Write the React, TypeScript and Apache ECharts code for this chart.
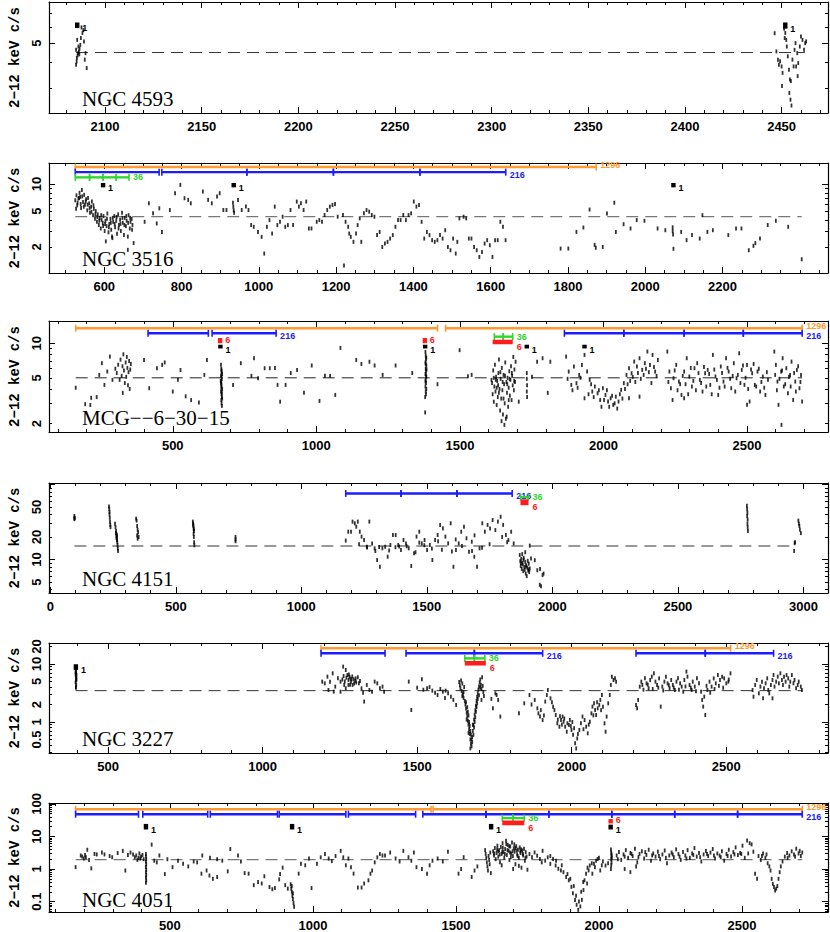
import React, { useEffect, useRef } from "react";
import * as echarts from "echarts";

type Pt = [number, number];
type Row = { scale: string; y: number; segs: [number, number][]; labelled: boolean };
type Mark = { x: number; lo: number; hi: number; scale: string };
type Block = { x1: number; x2: number; lo: number; hi: number; scale: string };

// ---------------- Panel 1 : NGC 4593 ----------------
const p1Name = "NGC 4593";
const p1XRange = [2071, 2474];
const p1YRange = [2.25, 8.0];
const p1XTicks = [2100, 2150, 2200, 2250, 2300, 2350, 2400, 2450];
const p1YLabels = [5];
const p1YMajor = [5];
const p1YMinor = [3, 4, 6, 7];
const p1Mean = 4.49;
const p1MeanSpan = [2085, 2462];
const p1Points: Pt[] = [
  [2085.6, 5.19], [2086.2, 4.81], [2085.0, 4.63], [2086.0, 4.46], [2085.4, 4.22], [2085.0, 3.9], [2087.8, 5.98],
  [2088.3, 5.62], [2089.1, 5.1], [2089.9, 4.46], [2089.5, 4.14], [2090.5, 3.76], [2086.7, 4.4], [2087.2, 4.9],
  [2087.5, 5.3], [2086.5, 4.55], [2085.8, 4.35], [2088.8, 5.8], [2085.3, 4.05], [2086.8, 4.7],
  [2446.4, 5.6], [2447.3, 4.55], [2448.1, 4.14], [2449.2, 4.06], [2450.0, 3.83], [2450.5, 3.56], [2450.2, 3.06],
  [2451.9, 5.62], [2452.4, 5.19], [2452.7, 4.81], [2453.2, 4.3], [2453.8, 3.69], [2454.3, 3.3], [2454.8, 3.24],
  [2454.0, 2.83], [2454.6, 2.62], [2455.1, 2.45], [2455.6, 4.14], [2456.2, 3.83], [2456.7, 4.63], [2457.2, 5.0],
  [2458.1, 4.46], [2458.6, 3.98], [2459.4, 4.81], [2460.0, 5.4], [2460.8, 5.19], [2461.6, 4.63], [2462.2, 5.0],
  [2462.7, 5.1], [2457.5, 3.83], [2458.3, 3.43], [2448.6, 3.9], [2451.3, 5.9], [2451.6, 5.3],
];
const p1Rows: Row[] = [];
const p1Marks: Mark[] = [
  { x: 2085.6, lo: 5.94, hi: 6.33, scale: "1" },
  { x: 2451.9, lo: 5.9, hi: 6.33, scale: "1" },
];
const p1Blocks: Block[] = [];

// ---------------- Panel 2 : NGC 3516 ----------------
const p2Name = "NGC 3516";
const p2XRange = [457, 2473];
const p2YRange = [1.02, 17.2];
const p2XTicks = [600, 800, 1000, 1200, 1400, 1600, 1800, 2000, 2200];
const p2YLabels = [2, 5, 10];
const p2YMajor = [10];
const p2YMinor = [2, 3, 4, 5, 6, 7, 8, 9];
const p2Mean = 4.33;
const p2MeanSpan = [525, 2405];
const p2Points: Pt[] = [
  [525, 6.6], [528, 7.5], [530, 5.8], [533, 6.9], [536, 8.0], [538, 7.2], [540, 5.4], [542, 8.6], [545, 6.3],
  [548, 7.6], [550, 5.9], [553, 6.8], [556, 5.1], [558, 7.0], [561, 6.1], [563, 4.8], [566, 5.6], [568, 6.4],
  [571, 4.5], [573, 5.3], [576, 4.1], [578, 5.0], [581, 3.8], [583, 4.6], [586, 3.5], [588, 4.2], [591, 3.2],
  [593, 4.0], [596, 3.7], [598, 4.4], [601, 3.0], [603, 3.9], [606, 3.4], [608, 4.7], [611, 2.9], [613, 3.6],
  [616, 4.1], [618, 3.1], [621, 2.5], [623, 3.8], [626, 4.4], [628, 3.3], [631, 3.9], [633, 2.8], [636, 4.6],
  [638, 3.5], [641, 4.0], [643, 3.0], [646, 4.8], [648, 3.7], [651, 2.7], [653, 4.2], [656, 3.4], [658, 3.9],
  [661, 2.6], [663, 4.5], [666, 3.2], [668, 3.8], [671, 4.1], [673, 3.5], [676, 2.2], [604, 2.3], [620, 2.6],
  [661, 1.85], [527, 5.3], [531, 6.2], [535, 7.0], [539, 6.0], [543, 7.3], [547, 5.6], [552, 6.4], [557, 5.9],
  [562, 5.4], [567, 4.9], [572, 5.8], [577, 4.6], [582, 4.3], [587, 3.9], [592, 4.5], [597, 3.4], [602, 3.6],
  [607, 4.1], [612, 3.3], [617, 3.7], [622, 4.2], [627, 3.6], [632, 4.3], [637, 3.2], [642, 3.6], [647, 4.2],
  [652, 3.5], [657, 4.4], [662, 3.7], [667, 4.2], [672, 3.1],
  [704.5, 3.8], [715.4, 6.11], [726.3, 4.72], [735.8, 3.64], [742.5, 5.37], [749.3, 2.93], [769.7, 5.14],
  [783.3, 7.92], [796.9, 9.8], [807.7, 6.96], [817.2, 6.67], [824, 6.11], [855.2, 8.27], [868.8, 6.67],
  [878.3, 6.11], [891.9, 7.26], [898.7, 7.92], [908.2, 5.14], [916.3, 5.14], [933, 6.2], [934, 5.6], [935, 5.1],
  [936, 4.8], [946.2, 6.67], [955.7, 5.14], [966.6, 5.61], [973.3, 5.14], [980.1, 3.49], [986.9, 3.34],
  [997.8, 2.93], [1007.3, 2.58], [1014, 1.68], [1020.9, 3.34], [1027.6, 3.97], [1034.4, 2.81], [1041.2, 5.61],
  [1048, 3.49], [1054.8, 3.8], [1061.6, 4.33], [1068.4, 3.34], [1075.2, 3.49], [1082, 5.14], [1088.7, 3.49],
  [1098.2, 6.39], [1103.7, 5.61], [1109, 6.11], [1115.9, 5.14], [1122.7, 6.39], [1129.5, 3.2], [1136.3, 3.2],
  [1149.8, 3.8], [1156.6, 3.97], [1163.4, 3.8], [1170.2, 4.52], [1177, 5.14], [1183.8, 5.61], [1190.6, 5.86],
  [1197.3, 6.0], [1204.1, 4.33], [1217.7, 4.52], [1220.4, 1.24], [1224.5, 3.8], [1231.3, 3.34], [1234, 2.81],
  [1238, 2.58], [1244.9, 2.27], [1251.6, 2.81], [1255.7, 3.49], [1261.1, 4.15], [1265.2, 2.27], [1272, 4.72],
  [1278.8, 5.14], [1285.6, 4.93], [1292.4, 4.52], [1299.2, 4.33], [1306, 2.7], [1312.7, 2.93], [1319.5, 1.99],
  [1326.3, 2.17], [1333.1, 2.27], [1339.9, 2.47], [1346.7, 2.7], [1353.5, 3.34], [1360.3, 3.97], [1367, 3.97],
  [1373.8, 4.52], [1380.6, 3.97], [1387.4, 4.52], [1394.2, 4.72], [1401, 6.39], [1407.8, 5.61], [1414.6, 5.86],
  [1421.3, 3.8], [1428.1, 2.47], [1434.9, 2.93], [1441.7, 2.7], [1448.5, 2.37], [1455.3, 2.27], [1462.1, 2.37],
  [1468.9, 2.7], [1475.6, 2.47], [1482.4, 3.06], [1489.2, 1.99], [1496, 1.83], [1502.8, 2.47], [1509.6, 1.68],
  [1513.7, 2.27], [1519.1, 4.15], [1530, 4.33], [1536.7, 4.15], [1543.5, 2.47], [1550.3, 2.47], [1557.1, 1.99],
  [1563.9, 1.83], [1570.7, 1.54], [1577.5, 1.75], [1584.3, 2.17], [1591, 2.37], [1597.8, 2.08], [1604.6, 1.54],
  [1611.4, 2.37], [1618.2, 2.37], [1625, 3.8], [1631.8, 3.34], [1638.6, 2.37],
  [1781, 1.91], [1801, 1.91], [1822, 2.93], [1840, 3.28], [1856, 5.2], [1869, 2.1], [1872, 1.95], [1890, 1.99],
  [1901, 4.7], [1920, 6.2], [1924, 2.93], [1944, 3.57], [1962, 3.2], [1978, 3.97], [1998, 3.9], [2032, 3.2],
  [2052, 3.06], [2071, 3.3], [2071, 3.0], [2072, 2.75], [2073, 1.9], [2093, 2.93], [2107, 2.37], [2121, 2.7],
  [2141, 2.47], [2148, 4.5], [2161, 2.93], [2175, 3.06], [2215, 2.7], [2235, 3.2], [2249, 3.2], [2268, 1.83],
  [2280, 2.05], [2285, 2.2], [2297, 2.47], [2317, 3.5], [2338, 3.9], [2370, 3.34], [2405, 1.45],
];
const p2Rows: Row[] = [
  { scale: "1296", y: 15.5, segs: [[525, 1873]], labelled: true },
  { scale: "216", y: 13.6, segs: [[525, 742], [749, 969], [969, 1193], [1193, 1417], [1417, 1639]], labelled: true },
  { scale: "36", y: 11.9, segs: [[525, 562], [562, 597], [597, 631], [631, 664]], labelled: true },
];
const p2Marks: Mark[] = [
  { x: 597, lo: 9.2, hi: 10.3, scale: "1" },
  { x: 935, lo: 9.2, hi: 10.3, scale: "1" },
  { x: 2073, lo: 9.2, hi: 10.3, scale: "1" },
];
const p2Blocks: Block[] = [];

// ---------------- Panel 3 : MCG-6-30-15 ----------------
const p3Name = "MCG\u2212\u22126\u221230\u221215";
const p3XRange = [69, 2782];
const p3YRange = [1.69, 15.6];
const p3XTicks = [500, 1000, 1500, 2000, 2500];
const p3YLabels = [2, 5, 10];
const p3YMajor = [10];
const p3YMinor = [2, 3, 4, 5, 6, 7, 8, 9];
const p3Mean = 5.0;
const p3MeanSpan = [162, 2692];
const p3Points: Pt[] = [
  [162, 4.1], [195, 2.95], [213, 2.9], [216, 3.35], [235, 3.4], [244, 5.3], [253, 6.7], [262, 4.34], [272, 5.67],
  [281, 7.65], [290, 4.8], [300, 6.0], [305, 5.5], [310, 6.5], [315, 4.8], [318, 7.2], [322, 5.2], [325, 6.3],
  [328, 8.0], [330, 5.8], [333, 4.5], [336, 6.8], [338, 5.1], [340, 7.6], [342, 6.1], [344, 4.3], [346, 5.6],
  [348, 7.0], [350, 4.0], [352, 5.9], [354, 6.6], [326, 3.7], [400, 7.15], [418, 4.06], [445, 6.06], [463, 6.48],
  [472, 6.8], [500, 3.8], [518, 4.8], [527, 5.85], [545, 3.45], [564, 3.2], [591, 3.05], [610, 5.3], [619, 7.15],
  [668, 6.5], [669, 6.0], [670, 5.6], [668, 5.2], [671, 4.9], [669, 4.6], [670, 4.3], [672, 4.0], [668, 3.8],
  [670, 3.6], [671, 3.4], [669, 3.2], [670, 3.0], [671, 2.85], [672, 5.4], [667, 4.7], [670, 5.1], [669, 4.1],
  [671, 3.7], [668, 4.45], [670, 5.8], [672, 3.3],
  [710, 4.34], [737, 6.7], [774, 5.2], [783, 7.4], [797, 4.96], [820, 6.06], [838, 6.06], [856, 6.1], [865, 4.34],
  [874, 3.1], [893, 4.34], [911, 5.5], [933, 5.85], [957, 3.7], [984, 6.4], [1011, 3.15], [1030, 5.2], [1048, 5.2],
  [1066, 3.55], [1084, 9.1], [1139, 7.15], [1157, 6.6], [1185, 6.9], [1203, 6.4], [1231, 5.3], [1276, 6.4],
  [1334, 5.5],
  [1380, 8.4], [1381, 7.8], [1382, 7.2], [1380, 6.8], [1383, 6.4], [1381, 6.0], [1382, 5.7], [1380, 5.4],
  [1383, 5.1], [1381, 4.8], [1382, 4.5], [1380, 4.2], [1383, 4.0], [1381, 3.8], [1382, 3.6], [1379, 2.5],
  [1384, 5.9], [1380, 4.65], [1382, 5.25], [1381, 6.6], [1383, 7.5], [1379, 3.4],
  [1422, 4.4], [1499, 8.7], [1528, 5.15], [1541, 5.3],
  [1612, 4.5], [1614, 3.6], [1616, 5.8], [1618, 3.1], [1620, 4.2], [1622, 6.5], [1624, 3.8], [1626, 5.1],
  [1628, 2.9], [1630, 4.7], [1632, 3.4], [1634, 5.5], [1636, 7.2], [1638, 4.0], [1640, 2.6], [1642, 4.9],
  [1644, 3.3], [1646, 6.1], [1648, 3.9], [1650, 2.4], [1652, 5.3], [1654, 4.4], [1656, 3.0], [1658, 6.8],
  [1660, 2.2], [1662, 4.6], [1664, 3.7], [1666, 5.0], [1668, 2.8], [1670, 4.1], [1672, 5.7], [1674, 3.5],
  [1676, 4.8], [1678, 6.3], [1680, 3.2], [1682, 5.2], [1684, 4.3], [1686, 7.6], [1688, 3.9], [1690, 5.9],
  [1692, 4.6], [1694, 6.9], [1618, 5.0], [1625, 4.8], [1633, 4.3], [1641, 5.6], [1649, 4.6], [1657, 5.2],
  [1665, 4.4], [1673, 4.9], [1681, 5.5], [1689, 4.7], [1645, 2.1], [1663, 2.3], [1655, 1.95], [1610, 4.8],
  [1670, 3.2], [1628, 4.1], [1636, 3.7], [1652, 3.3],
  [1705, 3.1], [1733, 5.5], [1733, 4.9], [1734, 4.3], [1733, 3.8], [1734, 3.4], [1751, 5.1], [1769, 6.9],
  [1788, 7.4], [1806, 3.7], [1815, 6.9],
  [1870, 7.65], [1879, 5.67], [1888, 4.34], [1897, 6.27], [1906, 4.49], [1915.5, 5.3], [1925, 6.48], [1934, 7.91],
  [1943, 5.67], [1952, 4.8], [1961, 3.8], [1970, 4.2], [1934, 3.32], [1979.5, 3.67], [1988.6, 3.21], [1998, 4.06],
  [2007, 3.55], [2016, 3.11], [2025, 3.32], [2034, 2.91], [2043, 3.43], [2052.5, 3.11], [2061.7, 3.93],
  [2071, 4.49], [2080, 5.3], [2089, 6.06], [2098, 5.48], [2107, 6.92], [2116.5, 6.27], [2125.6, 7.4], [2135, 5.86],
  [2144, 6.7], [2153, 8.46], [2162, 6.48], [2171, 7.91], [2180, 5.67], [2189.5, 7.15], [2089, 3.32], [2125.6, 3.43],
  [2222.4, 8.46], [2229.7, 5.67], [2235, 4.06], [2244, 4.96], [2253.4, 6.48], [2262.6, 4.64], [2271.7, 3.55],
  [2281, 5.67], [2290, 7.4], [2299, 5.13], [2308, 4.2], [2317, 6.06], [2326.5, 6.7], [2335.6, 4.8], [2345, 3.8],
  [2354, 5.48], [2240.7, 3.21], [2281, 3.32], [2363, 5.86], [2372, 4.34], [2381, 7.91], [2390, 5.13], [2399.6, 3.55],
  [2408.7, 6.27], [2418, 4.64], [2427, 7.4], [2436, 5.67], [2445, 4.06], [2454, 6.7], [2463.5, 4.96], [2472.6, 8.18],
  [2481.7, 5.86], [2491, 4.34], [2500, 6.48], [2509, 3.11], [2518, 5.48], [2500, 2.91], [2527, 4.34], [2536.5, 5.67],
  [2545.7, 3.8], [2555, 5.13], [2564, 3.55], [2573, 4.8], [2595, 8.46], [2600.5, 6.48], [2606, 4.64], [2609.6, 2.91],
  [2618.7, 5.67], [2624, 7.4], [2628, 4.2], [2637, 6.06], [2642.4, 3.67], [2650, 5.3], [2655, 6.92], [2660.7, 3.21],
  [2668, 4.64], [2673.5, 5.86], [2682.6, 4.06], [2688, 5.3], [2692, 3.11], [2620, 1.95],
  [1875, 4.9], [1892, 3.9], [1910, 4.1], [1920, 5.0], [1948, 3.6], [1957, 4.4], [1966, 3.4], [1984, 3.9],
  [1993, 2.8], [2002, 3.2], [2012, 3.9], [2020, 2.8], [2030, 3.5], [2039, 3.0], [2048, 2.7], [2057, 3.6],
  [2066, 3.3], [2075, 4.0], [2084, 4.4], [2093, 4.7], [2102, 5.1], [2111, 4.6], [2120, 5.5], [2130, 4.9],
  [2140, 5.3], [2148, 6.0], [2158, 5.6], [2167, 4.5], [2176, 6.2], [2185, 5.2], [2226, 4.6], [2248, 5.8],
  [2258, 3.9], [2267, 4.4], [2276, 5.2], [2286, 4.4], [2295, 3.6], [2304, 6.1], [2313, 4.7], [2322, 3.9],
  [2331, 5.5], [2340, 4.5], [2350, 6.2], [2358, 4.2], [2368, 5.4], [2377, 3.6], [2386, 5.9], [2395, 4.8],
  [2404, 4.1], [2413, 5.5], [2422, 4.2], [2432, 6.1], [2441, 4.9], [2450, 5.2], [2459, 3.8], [2468, 5.3],
  [2477, 4.5], [2486, 6.4], [2495, 5.0], [2504, 4.0], [2514, 5.9], [2523, 6.6], [2532, 4.2], [2541, 6.0],
  [2550, 4.6], [2560, 4.1], [2569, 5.6], [2598, 5.3], [2604, 3.9], [2613, 4.9], [2622, 5.8], [2633, 4.4],
  [2646, 5.1], [2652, 4.2], [2664, 5.5], [2670, 3.8], [2678, 6.3], [2686, 4.6],
];
const p3Rows: Row[] = [
  { scale: "1296", y: 13.5, segs: [[162, 1422]], labelled: false },
  { scale: "1296", y: 13.5, segs: [[1450, 2692]], labelled: true },
  { scale: "216", y: 12.2, segs: [[414, 624], [637, 860]], labelled: true },
  { scale: "216", y: 12.2, segs: [[1864, 2071], [2071, 2281], [2281, 2487], [2487, 2692]], labelled: true },
  { scale: "36", y: 11.4, segs: [[1620, 1651], [1651, 1684]], labelled: true },
];
const p3Marks: Mark[] = [
  { x: 665, lo: 10.0, hi: 11.1, scale: "6" },
  { x: 1378, lo: 10.0, hi: 11.1, scale: "6" },
  { x: 666, lo: 9.0, hi: 9.7, scale: "1" },
  { x: 1379, lo: 9.0, hi: 9.7, scale: "1" },
  { x: 1733, lo: 9.0, hi: 9.7, scale: "1" },
  { x: 1934, lo: 9.0, hi: 9.7, scale: "1" },
];
const p3Blocks: Block[] = [{ x1: 1614, x2: 1684, lo: 9.8, hi: 10.7, scale: "6" }];

// ---------------- Panel 4 : NGC 4151 ----------------
const p4Name = "NGC 4151";
const p4XRange = [-5, 3098];
const p4YRange = [3.58, 104.7];
const p4XTicks = [0, 500, 1000, 1500, 2000, 2500, 3000];
const p4YLabels = [5, 10, 20, 50];
const p4YMajor = [10, 100];
const p4YMinor = [4, 5, 6, 7, 8, 9, 20, 30, 40, 50, 60, 70, 80, 90];
const p4Mean = 15.1;
const p4MeanSpan = [96, 2963];
const p4Points: Pt[] = [
  [96, 38], [97, 36], [96, 34.5], [97, 35.5],
  [234, 51], [235, 47], [236, 43], [236, 40], [237, 36], [238, 32], [239, 29], [240, 27],
  [258, 30], [260, 27], [262, 24], [263, 22], [264, 20.5], [265, 19], [266, 18], [267, 17], [268, 15.5], [269, 14],
  [270, 13], [266, 21], [264, 19.5], [262, 22.5],
  [342, 35], [344, 33], [346, 28], [348, 25], [350, 23], [346, 21], [352, 20], [348, 19],
  [568, 32], [569, 30], [570, 28], [571, 26], [572, 24], [571, 22], [572, 20], [573, 17], [574, 15.5], [570, 29], [572, 25],
  [738, 20], [738, 18.5], [738, 17.5],
  [1177, 17.9], [1187, 23.5], [1198, 23.5], [1204, 32], [1213, 30.4], [1219, 27.4], [1225, 32], [1233, 23.5],
  [1240, 20.2], [1250, 18.2], [1261, 14.8], [1271, 32], [1282, 16.4], [1292, 14.1], [1302, 9.85], [1313, 8.0],
  [1323, 14.1], [1334, 14.8], [1344, 10.9], [1355, 15.6], [1365, 21.2], [1376, 21.2], [1386, 15.6], [1397, 13.4],
  [1407, 18.2], [1417, 16.4], [1428, 14.1], [1438, 8.2], [1449, 12.1], [1459, 20.2], [1470, 23.5], [1480, 16.4],
  [1491, 18.2], [1501, 13.4], [1512, 15.6], [1522, 9.85], [1533, 18.2], [1543, 21.2], [1553, 28.9], [1564, 26],
  [1574, 20.2], [1585, 16.4], [1595, 30.4], [1606, 8.0], [1616, 13.4], [1627, 16.4], [1637, 23.5], [1648, 27.4],
  [1658, 19.2], [1668, 12.7], [1679, 17.3], [1689, 10.9], [1700, 8.0], [1710, 14.1], [1721, 30.4], [1731, 23.5],
  [1742, 28.9], [1752, 26], [1762, 33.6], [1773, 24.7], [1783, 32], [1794, 37.2], [1804, 28.9], [1815, 21.2],
  [1825, 18.2], [1836, 23.5], [1846, 16.4],
  [1262, 14.5], [1295, 13.0], [1350, 13.2], [1375, 14.6], [1420, 15.0], [1455, 12.5], [1490, 15.5], [1520, 14.0],
  [1560, 13.5], [1600, 12.8], [1640, 15.2], [1680, 13.0], [1720, 14.3], [1750, 16.0], [1800, 20.0], [1820, 17.0],
  [1230, 16.0], [1310, 14.7], [1390, 14.9], [1470, 16.8], [1545, 17.5], [1615, 18.5], [1690, 21.0],
  [1870, 11.5], [1872, 9.5], [1874, 8.2], [1876, 10.2], [1878, 7.5], [1880, 9.0], [1882, 8.6], [1884, 7.0],
  [1886, 10.5], [1888, 8.0], [1890, 7.3], [1892, 9.3], [1894, 6.5], [1896, 8.4], [1898, 6.0], [1900, 7.8],
  [1902, 9.6], [1904, 7.1], [1906, 8.8], [1908, 6.8], [1910, 7.6], [1885, 9.9], [1875, 8.9], [1895, 8.1],
  [1905, 7.4], [1915, 10.3], [1880, 11.8], [1892, 12.5],
  [1910, 15.3], [1930, 9.8], [1940, 7.2], [1951, 7.5], [1961, 6.2], [1950, 4.6], [1955, 4.4], [1965, 6.5],
  [2775, 52], [2776, 47], [2777, 42], [2776, 38], [2778, 34], [2777, 30], [2778, 27], [2779, 24],
  [2963, 13], [2965, 16.5], [2967, 17], [2980, 33], [2982, 30], [2984, 28], [2986, 25], [2990, 22.5],
];
const p4Rows: Row[] = [
  { scale: "216", y: 76, segs: [[1177, 1397], [1397, 1620], [1620, 1840]], labelled: true },
  { scale: "36", y: 68, segs: [[1873, 1905]], labelled: true },
];
const p4Marks: Mark[] = [];
const p4Blocks: Block[] = [{ x1: 1873, x2: 1905, lo: 53, hi: 63.5, scale: "6" }];

// ---------------- Panel 5 : NGC 3227 ----------------
const p5Name = "NGC 3227";
const p5XRange = [309, 2829];
const p5YRange = [0.292, 23];
const p5XTicks = [500, 1000, 1500, 2000, 2500];
const p5YLabels = [0.5, 1, 2, 5, 10, 20];
const p5YMajor = [1, 10];
const p5YMinor = [0.3, 0.4, 0.5, 0.6, 0.7, 0.8, 0.9, 2, 3, 4, 5, 6, 7, 8, 9, 20];
const p5Mean = 3.47;
const p5MeanSpan = [395, 2746];
const p5Points: Pt[] = [
  [396, 7.6], [397, 7.1], [395, 6.6], [396, 6.1], [397, 5.6], [396, 5.2], [395, 4.8], [397, 4.4], [396, 4.0],
  [398, 6.4], [398, 5.4], [395, 7.3], [396, 3.9],
  [1192.7, 4.96], [1201, 4.64], [1209.7, 6.05], [1218, 4.96], [1226.7, 6.9], [1235, 4.07], [1243.6, 5.65],
  [1252, 4.96], [1260.6, 9.0], [1269, 7.88], [1274, 6.45], [1277.6, 5.3], [1281, 6.05], [1286, 4.96], [1291, 4.35],
  [1294.6, 5.45], [1299.7, 5.1], [1303, 4.78], [1308, 5.9], [1311.6, 4.64], [1315, 5.1], [1320, 3.8], [1325, 3.2],
  [1328.5, 2.25], [1337, 4.35], [1345.5, 3.56], [1354, 3.33], [1362.5, 4.96], [1371, 4.64], [1379.5, 3.8],
  [1388, 4.07], [1393, 3.33], [1252, 3.33], [1269, 3.8], [1264, 4.35], [1277.6, 4.35], [1288, 5.45], [1301, 5.65],
  [1213, 3.56], [1230, 3.33], [1262, 6.2], [1266, 5.0], [1271, 5.8], [1279, 6.6], [1284, 5.6], [1290, 6.1],
  [1296, 4.6], [1258, 5.4], [1283, 4.4],
  [1472.8, 4.96], [1481, 1.61], [1515.3, 5.45], [1532, 3.8], [1549, 3.47], [1558, 3.2], [1566, 2.92], [1583, 3.33],
  [1592, 3.47], [1600, 3.12], [1609, 2.73], [1617, 2.4], [1626, 1.97], [1500, 3.9], [1520, 3.6], [1540, 4.0],
  [1575, 3.7], [1590, 2.6],
  [1636, 4.9], [1638, 4.3], [1640, 3.8], [1642, 5.2], [1644, 3.4], [1646, 4.6], [1648, 3.0], [1650, 2.6],
  [1652, 4.0], [1654, 2.3], [1656, 2.0], [1658, 1.7], [1660, 1.45], [1662, 1.25], [1664, 1.05], [1666, 0.9],
  [1668, 0.75], [1670, 0.62], [1672, 0.5], [1674, 0.42], [1676, 0.38], [1678, 0.55], [1680, 0.7], [1682, 0.88],
  [1684, 1.1], [1686, 1.35], [1688, 1.6], [1690, 1.9], [1692, 2.3], [1694, 2.7], [1696, 3.1], [1698, 3.6],
  [1700, 4.1], [1702, 4.8], [1704, 5.4], [1706, 4.4], [1708, 3.7], [1710, 5.9], [1712, 4.2], [1714, 3.3],
  [1716, 2.8], [1660, 1.1], [1664, 1.5], [1668, 1.0], [1670, 0.85], [1672, 0.7], [1674, 0.6], [1676, 0.5],
  [1678, 0.45], [1680, 0.9], [1682, 0.6], [1684, 0.8], [1686, 1.0], [1688, 1.2], [1690, 1.5], [1692, 1.8],
  [1694, 2.1], [1696, 2.5], [1662, 1.8], [1666, 1.3], [1672, 0.35], [1666, 0.65], [1658, 2.2], [1650, 3.3],
  [1646, 2.8], [1704, 3.9], [1708, 2.4], [1700, 2.9],
  [1745, 1.72], [1753, 3.12], [1757, 2.92], [1762, 2.4], [1769, 1.24], [1740, 2.5],
  [1829.3, 1.41], [1846.3, 2.1], [1863.3, 2.92], [1880.3, 2.4], [1888.8, 1.72], [1892.2, 1.41], [1897.3, 1.24],
  [1905.8, 1.08], [1914.3, 2.25], [1919.4, 2.92], [1922.8, 3.56], [1931.3, 2.56], [1939.7, 1.84], [1948.2, 1.32],
  [1953.3, 0.948], [1960.1, 0.83], [1965.2, 1.08], [1970.3, 1.24], [1973.7, 1.01], [1978.8, 0.83], [1983.9, 0.68],
  [1990.7, 0.89], [1994, 1.08], [1999.2, 0.728], [2004.3, 0.6], [2007.6, 0.78], [2011, 0.43], [2014.4, 0.35],
  [2017.8, 0.52], [2024.6, 0.728], [2029.7, 0.948], [2034.8, 1.24], [2041.6, 1.08], [2046.7, 0.83], [2051.8, 0.638],
  [2058.6, 1.01], [2063.7, 1.41], [2067, 1.84], [2072.2, 2.1], [2075.6, 1.61], [2079, 1.32], [2084, 1.72],
  [2089.1, 1.97], [2092.5, 2.4], [2097.6, 2.92], [2101, 1.84], [2106, 0.948], [2109.5, 0.68], [2112.9, 1.24],
  [2118, 2.1], [2123, 2.92], [2126.5, 4.35], [2130, 6.05], [2135, 5.3], [2140, 5.65], [2143.5, 4.96],
  [1955, 1.1], [1962, 1.25], [1968, 0.9], [1976, 1.15], [1986, 0.95], [1997, 0.85], [2002, 1.0], [2020, 0.62],
  [2038, 0.75], [2055, 0.9], [2070, 1.3], [2082, 2.2], [2095, 1.6], [1870, 2.0], [1900, 1.6], [1910, 1.3],
  [1936, 2.2], [1944, 1.6],
  [2208, 1.97], [2211.4, 1.72], [2214.8, 2.4], [2220, 4.07], [2225, 4.96], [2228.4, 4.35], [2236.8, 5.65],
  [2242, 4.64], [2248.7, 3.8], [2253.8, 5.3], [2259, 6.05], [2265.7, 6.9], [2270.8, 4.96], [2276, 4.35],
  [2282.7, 5.65], [2287.8, 1.84], [2293, 4.07], [2299.7, 4.96], [2304.8, 6.05], [2310, 4.64], [2316.6, 3.8],
  [2321.8, 5.3], [2327, 4.35], [2333.6, 3.56], [2338.7, 4.96], [2343.8, 5.65], [2350.6, 4.64], [2355.7, 4.07],
  [2360.8, 3.33], [2364.2, 5.3], [2371, 7.4], [2374.4, 6.05], [2381, 4.35], [2388, 3.56], [2391.4, 4.96],
  [2398, 4.07], [2405, 5.65], [2411.7, 4.64], [2418.5, 3.33], [2422, 2.4], [2425.3, 1.84], [2432, 1.32],
  [2428.7, 2.73], [2439, 3.56], [2445.7, 4.96], [2452.5, 4.07], [2459.3, 5.65], [2466, 4.64], [2472.8, 6.45],
  [2479.6, 5.3], [2486.4, 6.05], [2493, 5.65], [2500, 4.64], [2506.8, 4.96], [2513.6, 6.9],
  [2232, 3.6], [2246, 4.4], [2262, 3.7], [2280, 3.9], [2296, 3.5], [2314, 4.3], [2330, 3.9], [2347, 3.6],
  [2368, 4.1], [2385, 3.9], [2402, 3.4], [2436, 4.2], [2448, 3.2], [2462, 3.7], [2476, 4.2], [2490, 3.9], [2508, 5.4],
  [2585, 3.56], [2588, 2.73], [2593.4, 4.35], [2598.5, 5.3], [2605.3, 3.12], [2610.3, 4.07], [2615.4, 4.96],
  [2619, 2.56], [2622, 3.8], [2627.3, 4.64], [2632.4, 5.65], [2635.8, 3.56], [2639, 3.12], [2644.3, 4.35],
  [2649.4, 5.3], [2652.8, 6.45], [2656, 4.07], [2661.3, 4.96], [2666.4, 6.05], [2670, 4.64], [2675, 6.9],
  [2680, 5.3], [2683.3, 4.35], [2686.7, 6.05], [2691.8, 4.96], [2695, 6.45], [2700.3, 5.65], [2703.8, 4.07],
  [2707, 4.96], [2712, 6.45], [2717.3, 4.64], [2720.7, 5.3], [2725.8, 3.8], [2731, 4.35], [2734.3, 4.96],
  [2741, 4.07], [2744.5, 3.56], [2649.4, 2.56],
];
const p5Rows: Row[] = [
  { scale: "1296", y: 18.7, segs: [[1189, 2514]], labelled: true },
  { scale: "216", y: 15.3, segs: [[1189, 1396]], labelled: false },
  { scale: "216", y: 15.3, segs: [[1464, 1685], [1685, 1906]], labelled: true },
  { scale: "216", y: 15.3, segs: [[2208, 2432], [2432, 2653]], labelled: true },
  { scale: "36", y: 12.5, segs: [[1654, 1685], [1685, 1719]], labelled: true },
];
const p5Marks: Mark[] = [{ x: 396, lo: 7.9, hi: 9.9, scale: "1" }];
const p5Blocks: Block[] = [{ x1: 1654, x2: 1722, lo: 9.4, hi: 11.3, scale: "6" }];

// ---------------- Panel 6 : NGC 4051 ----------------
const p6Name = "NGC 4051";
const p6XRange = [77, 2801];
const p6YRange = [0.048, 106];
const p6XTicks = [500, 1000, 1500, 2000, 2500];
const p6YLabels = [0.1, 1, 10, 100];
const p6YMajor = [0.1, 1, 10, 100];
const p6YMinor = [0.05, 0.06, 0.07, 0.08, 0.09, 0.2, 0.3, 0.4, 0.5, 0.6, 0.7, 0.8, 0.9, 2, 3, 4, 5, 6, 7, 8, 9,
  20, 30, 40, 50, 60, 70, 80, 90];
const p6Mean = 1.95;
const p6MeanSpan = [170, 2711];
const p6Points: Pt[] = [
  [170, 1.14], [188, 2.6], [193, 2.4], [199, 2.1], [203, 2.7], [206, 2.3], [211, 3.9], [217, 1.9], [225, 1.05],
  [236, 2.9], [244, 2.8], [262, 3.2], [271, 2.8], [289, 2.5], [298, 2.3], [317, 3.1], [335, 3.6], [344, 0.9],
  [353, 2.7], [362, 3.2], [371, 2.8], [377, 2.3], [382, 2.6], [390, 2.2], [393, 3.0], [399, 2.4], [404, 2.7],
  [408, 2.0], [386, 1.9], [396, 2.1],
  [416, 2.9], [416, 2.4], [417, 2.0], [416, 1.7], [417, 1.4], [416, 1.15], [417, 0.95], [416, 0.8], [417, 0.65],
  [416, 0.55], [417, 0.45], [416, 0.38],
  [436, 5.6], [445, 1.8], [454, 1.6], [463, 2.6], [482, 0.7], [491, 2.0],
  [509, 1.14], [528, 1.8], [546, 1.45], [564, 1.2], [583, 1.7], [595, 1.6], [610, 0.72], [628, 0.9], [638, 0.63],
  [650, 0.5], [665, 0.57], [683, 1.8], [702, 0.85], [613, 2.6], [640, 2.2], [665, 2.0],
  [711, 4.1], [738, 2.6], [748, 1.7], [761, 0.75], [775, 0.72], [793, 0.32], [808, 0.4], [821, 0.36], [830, 0.6],
  [848, 0.28], [858, 0.24], [867, 0.26], [882, 0.48], [885, 0.7], [894, 1.1], [903, 0.32], [912, 0.25],
  [922, 0.34], [924, 0.25], [926, 0.2], [928, 0.15], [930, 0.12], [932, 0.09], [934, 0.07], [926, 0.3], [930, 0.18],
  [950, 0.72], [958, 1.45], [973, 1.3], [986, 2.1], [995, 0.26], [1014, 1.44], [1027, 2.28], [1042, 2.87],
  [1055, 2.1], [1066, 1.75], [1079, 2.5], [1097, 3.6], [1106, 2.28], [1115, 1.3], [1124, 2.1], [1133, 1.14],
  [1142, 0.72], [1157, 0.27], [1170, 0.27], [1179, 0.36], [1194, 0.45], [1201, 0.72], [1207, 0.9], [1216, 1.6],
  [1225, 2.28], [1234, 2.9], [1243, 2.6],
  [1252, 2.6], [1270, 3.2], [1289, 2.1], [1303, 1.7], [1316, 3.6], [1334, 2.3], [1344, 1.8], [1353, 3.2],
  [1362, 1.14], [1381, 1.0], [1399, 0.72], [1408, 1.3], [1418, 1.8], [1436, 2.1], [1454, 1.7], [1472, 3.4],
  [1509, 0.72], [1518, 1.0], [1527, 2.3],
  [1555, 0.57], [1565, 0.9], [1575, 1.2], [1602, 3.8], [1604, 2.9], [1606, 2.2], [1608, 1.6], [1610, 1.2],
  [1612, 0.9], [1614, 2.5], [1616, 1.9], [1618, 1.4], [1620, 3.2], [1622, 0.75],
  [1630, 3.5], [1633, 2.6], [1636, 4.4], [1639, 2.0], [1642, 3.1], [1645, 5.2], [1648, 2.4], [1651, 3.8],
  [1654, 1.6], [1657, 4.7], [1660, 2.9], [1663, 6.2], [1666, 3.3], [1669, 2.2], [1672, 4.1], [1675, 7.4],
  [1678, 2.7], [1681, 5.5], [1684, 3.6], [1687, 1.9], [1690, 4.9], [1693, 3.0], [1696, 6.5], [1699, 2.5],
  [1702, 4.3], [1705, 3.4], [1708, 1.4], [1711, 5.0], [1714, 2.8], [1717, 3.9], [1720, 2.2], [1723, 4.6],
  [1726, 3.1], [1729, 1.1], [1732, 3.7], [1735, 2.6], [1738, 4.2], [1741, 1.8], [1744, 3.3], [1747, 2.4],
  [1750, 0.95], [1634, 3.0], [1644, 4.0], [1653, 2.8], [1662, 3.4], [1671, 2.9], [1680, 3.8], [1689, 3.2],
  [1698, 3.5], [1707, 4.4], [1716, 2.5], [1725, 3.5], [1734, 2.9], [1743, 2.2], [1660, 1.3], [1700, 1.0],
  [1720, 1.25], [1676, 5.8], [1664, 4.5], [1686, 5.0], [1704, 5.7], [1648, 3.5], [1692, 2.3], [1712, 3.7],
  [1728, 4.0],
  [1757, 2.87], [1766, 2.28], [1775, 3.22], [1784, 2.56], [1793.6, 2.03], [1803, 3.62], [1812, 1.81], [1821, 2.28],
  [1830, 1.44], [1839.5, 2.03], [1848.6, 1.28], [1858, 1.02], [1867, 0.904], [1876, 0.8], [1885.3, 0.569],
  [1894.5, 0.452], [1903.7, 0.284], [1909, 0.179], [1916.5, 0.113], [1922, 0.08], [1927.6, 0.056], [1935, 0.071],
  [1940.4, 0.113], [1946, 0.226], [1949.6, 0.452], [1955, 0.717], [1958.7, 0.358], [1964, 0.904], [1968, 1.28],
  [1977, 0.717], [1982.6, 1.44], [1986, 1.14], [1995.4, 2.03], [2004.6, 0.904], [2013.8, 1.72], [2023, 1.28],
  [2032, 1.5], [1800, 1.6], [1830, 2.5], [1850, 1.8], [1870, 1.3], [1890, 0.7], [1900, 0.5], [1912, 0.3],
  [1920, 0.15], [1930, 0.1], [1938, 0.2], [1945, 0.4], [1960, 1.1], [1975, 1.5], [1990, 1.8], [2000, 2.2], [2010, 1.3],
  [2042, 4.0], [2043, 3.2], [2044, 2.5], [2043, 2.0], [2044, 1.6], [2043, 1.3], [2042, 1.0], [2044, 2.8], [2045, 2.2],
  [2062, 2.6], [2070, 3.3], [2078, 1.9], [2086, 2.8], [2094, 3.8], [2102, 2.2], [2110, 3.1], [2118, 2.5],
  [2126, 4.2], [2134, 1.6], [2142, 2.9], [2150, 3.5], [2158, 2.1], [2166, 2.7], [2174, 3.9], [2182, 1.8],
  [2190, 3.0], [2198, 2.4], [2206, 3.4], [2214, 2.0], [2222, 2.8], [2230, 3.7], [2238, 1.5], [2246, 2.6],
  [2254, 3.2], [2262, 2.3], [2270, 4.0], [2278, 2.9], [2286, 1.9], [2294, 3.3], [2302, 2.6], [2310, 3.8],
  [2318, 2.2], [2326, 3.0], [2334, 4.4], [2342, 2.4], [2350, 3.1], [2358, 1.7], [2366, 2.8], [2374, 3.6],
  [2382, 2.5], [2390, 3.2], [2398, 4.1], [2406, 2.1], [2414, 3.0], [2422, 2.6], [2430, 3.5], [2438, 1.8],
  [2446, 2.9], [2454, 3.9], [2462, 2.4], [2470, 3.3], [2478, 4.6], [2486, 2.7], [2494, 3.1], [2502, 5.2],
  [2510, 2.2], [2518, 7.5], [2527, 6.2], [2534, 5.7], [2540, 3.4], [2546, 0.72], [2553, 0.5], [2558, 2.5],
  [2566, 1.9], [2574, 3.0], [2582, 2.2], [2590, 1.5], [2596, 1.2], [2600, 0.9], [2604, 0.5], [2608, 0.35],
  [2612, 0.28], [2616, 0.22], [2620, 0.25], [2624, 0.3], [2628, 0.5], [2632, 0.8], [2636, 1.2], [2642, 1.7],
  [2650, 2.4], [2658, 3.1], [2666, 2.6], [2674, 3.5], [2682, 2.8], [2690, 4.2], [2698, 3.0], [2706, 2.5], [2711, 3.2],
  [2066, 2.0], [2090, 2.4], [2114, 2.9], [2138, 2.3], [2162, 3.3], [2186, 2.6], [2210, 2.5], [2234, 2.2],
  [2258, 2.8], [2282, 2.4], [2306, 2.1], [2330, 2.7], [2354, 2.3], [2378, 2.9], [2402, 2.6], [2426, 2.3],
  [2450, 2.5], [2474, 2.8], [2498, 2.9], [2522, 3.0], [2570, 2.5], [2586, 2.8], [2660, 2.2], [2686, 2.4],
  [2702, 3.6], [2090, 1.0], [2110, 0.8], [2130, 1.2],
];
const p6Rows: Row[] = [
  { scale: "1296", y: 68, segs: [[170, 1413], [1420, 2711]], labelled: true },
  {
    scale: "216", y: 48,
    segs: [[170, 390], [405, 632], [641, 876], [882, 1115], [1124, 1359], [1384, 1605], [1605, 1825], [1825, 2045],
      [2045, 2265], [2265, 2485], [2485, 2711]],
    labelled: true,
  },
  { scale: "36", y: 36.5, segs: [[1662, 1699], [1699, 1739]], labelled: true },
];
const p6Marks: Mark[] = [
  { x: 2041, lo: 25, hi: 34, scale: "6" },
  { x: 416, lo: 16.3, hi: 24.2, scale: "1" },
  { x: 927, lo: 16.3, hi: 24.2, scale: "1" },
  { x: 1623, lo: 16.3, hi: 24.2, scale: "1" },
  { x: 2041, lo: 16.3, hi: 23, scale: "1" },
];
const p6Blocks: Block[] = [{ x1: 1662, x2: 1739, lo: 22, hi: 31, scale: "6" }];

// ---------------- styles & layout ----------------
const Y_NAME = "2\u221212 keV c/s";
const SANS = "'Liberation Sans', Arial, sans-serif";
const SERIF = "'Liberation Serif', 'Times New Roman', serif";
const MONO = "'Liberation Mono', 'Courier New', monospace";
const SCALE_COLORS: Record<string, string> = {
  "1296": "#ff9a30",
  "216": "#1c1cff",
  "36": "#2ed82e",
  "6": "#ff1c1c",
  "1": "#000000",
};
const ROW_LABEL_SHIFT: Record<string, number> = { "1296": -2.5, "216": 2.5, "36": 0 };
const MARK_LABEL_SHIFT: Record<string, number> = { "1": 3, "6": -1 };
const BLOCK_LABEL_SHIFT = 5;
const TOPS = [2, 163, 321, 483, 643, 803];
const HEIGHTS = [111, 110, 111, 110, 110, 111];
const X_MINOR_STEPS = [10, 50, 100, 100, 100, 100];
const MEAN_STYLES = [
  { color: "#333", width: 1 },
  { color: "#777", width: 1.3 },
  { color: "#222", width: 1 },
  { color: "#999", width: 2 },
  { color: "#333", width: 1 },
  { color: "#777", width: 1.2 },
];

const panels = [
  { name: p1Name, xRange: p1XRange, yRange: p1YRange, xTicks: p1XTicks, yLabels: p1YLabels, yMajor: p1YMajor, yMinor: p1YMinor, mean: p1Mean, meanSpan: p1MeanSpan, points: p1Points, rows: p1Rows, marks: p1Marks, blocks: p1Blocks },
  { name: p2Name, xRange: p2XRange, yRange: p2YRange, xTicks: p2XTicks, yLabels: p2YLabels, yMajor: p2YMajor, yMinor: p2YMinor, mean: p2Mean, meanSpan: p2MeanSpan, points: p2Points, rows: p2Rows, marks: p2Marks, blocks: p2Blocks },
  { name: p3Name, xRange: p3XRange, yRange: p3YRange, xTicks: p3XTicks, yLabels: p3YLabels, yMajor: p3YMajor, yMinor: p3YMinor, mean: p3Mean, meanSpan: p3MeanSpan, points: p3Points, rows: p3Rows, marks: p3Marks, blocks: p3Blocks },
  { name: p4Name, xRange: p4XRange, yRange: p4YRange, xTicks: p4XTicks, yLabels: p4YLabels, yMajor: p4YMajor, yMinor: p4YMinor, mean: p4Mean, meanSpan: p4MeanSpan, points: p4Points, rows: p4Rows, marks: p4Marks, blocks: p4Blocks },
  { name: p5Name, xRange: p5XRange, yRange: p5YRange, xTicks: p5XTicks, yLabels: p5YLabels, yMajor: p5YMajor, yMinor: p5YMinor, mean: p5Mean, meanSpan: p5MeanSpan, points: p5Points, rows: p5Rows, marks: p5Marks, blocks: p5Blocks },
  { name: p6Name, xRange: p6XRange, yRange: p6YRange, xTicks: p6XTicks, yLabels: p6YLabels, yMajor: p6YMajor, yMinor: p6YMinor, mean: p6Mean, meanSpan: p6MeanSpan, points: p6Points, rows: p6Rows, marks: p6Marks, blocks: p6Blocks },
];

function minorValues(range: number[], step: number, majors: number[]) {
  const out: number[] = [];
  const start = Math.ceil(range[0] / step) * step;
  for (let v = start; v <= range[1]; v += step) {
    if (majors.indexOf(v) < 0) out.push(v);
  }
  return out;
}

type Item = { kind: string; x1: number; x2: number; lo: number; hi: number; scale: string; label: boolean; text?: string };

function buildItems(rows: Row[], marks: Mark[], blocks: Block[], xMin: number, yLabels: number[]): Item[] {
  const items: Item[] = [];
  rows.forEach((r) => {
    r.segs.forEach((s, k) => {
      items.push({ kind: "seg", x1: s[0], x2: s[1], lo: r.y, hi: r.y, scale: r.scale, label: r.labelled && k === r.segs.length - 1 });
    });
  });
  blocks.forEach((b) => items.push({ kind: "block", x1: b.x1, x2: b.x2, lo: b.lo, hi: b.hi, scale: b.scale, label: true }));
  marks.forEach((m) => items.push({ kind: "mark", x1: m.x, x2: m.x, lo: m.lo, hi: m.hi, scale: m.scale, label: true }));
  yLabels.forEach((v) => items.push({ kind: "ylabel", x1: xMin, x2: xMin, lo: v, hi: v, scale: "1", label: false, text: String(v) }));
  return items;
}

function buildOption() {
  const grid: any[] = [];
  const xAxis: any[] = [];
  const yAxis: any[] = [];
  const series: any[] = [];
  const graphic: any[] = [];
  const axisLineStyle = { color: "#000", width: 1.2 };
  const tickStyle = { color: "#000", width: 1 };

  panels.forEach((p, i) => {
    grid.push({ left: 42, right: 2, top: TOPS[i], height: HEIGHTS[i] });
    const xMinor = minorValues(p.xRange, X_MINOR_STEPS[i], p.xTicks);
    const xb = (position: string, ticks: number[], len: number, line: boolean, labels: number[] | null) => ({
      type: "value",
      gridIndex: i,
      position,
      min: p.xRange[0],
      max: p.xRange[1],
      splitLine: { show: false },
      axisLine: { show: line, onZero: false, lineStyle: axisLineStyle },
      axisTick: { show: true, inside: true, length: len, customValues: ticks, lineStyle: tickStyle },
      axisLabel: labels
        ? { show: true, customValues: labels, formatter: (v: number) => String(v), margin: 7, color: "#000", fontSize: 13, fontWeight: "bold", fontFamily: SANS }
        : { show: false },
    });
    xAxis.push(
      xb("bottom", p.xTicks, 6, true, p.xTicks),
      xb("bottom", xMinor, 3, false, null),
      xb("top", p.xTicks, 6, true, null),
      xb("top", xMinor, 3, false, null)
    );
    const yb = (position: string, ticks: number[], len: number, line: boolean, named: boolean) => ({
      type: "log",
      logBase: 10,
      gridIndex: i,
      position,
      min: p.yRange[0],
      max: p.yRange[1],
      splitLine: { show: false },
      minorTick: { show: false },
      axisLine: { show: line, onZero: false, lineStyle: axisLineStyle },
      axisTick: { show: true, inside: true, length: len, customValues: ticks, lineStyle: tickStyle },
      axisLabel: { show: false },
      name: named ? Y_NAME : "",
      nameLocation: "middle",
      nameRotate: 90,
      nameGap: 27,
      nameTextStyle: { color: "#000", fontSize: 14, fontWeight: "bold", fontFamily: MONO },
    });
    yAxis.push(
      yb("left", p.yMajor, 6, true, true),
      yb("left", p.yMinor, 3, false, false),
      yb("right", p.yMajor, 6, true, false),
      yb("right", p.yMinor, 3, false, false)
    );
    const ai = 4 * i;

    series.push({
      type: "line",
      xAxisIndex: ai,
      yAxisIndex: ai,
      data: [[p.meanSpan[0], p.mean], [p.meanSpan[1], p.mean]],
      symbol: "none",
      silent: true,
      z: 2,
      lineStyle: { type: [12, 7], color: MEAN_STYLES[i].color, width: MEAN_STYLES[i].width },
    });
    series.push({
      type: "scatter",
      xAxisIndex: ai,
      yAxisIndex: ai,
      data: p.points,
      symbol: "rect",
      symbolSize: [1.8, 4],
      itemStyle: { color: "#000" },
      silent: true,
      z: 3,
    });
    const items = buildItems(p.rows, p.marks, p.blocks, p.xRange[0], p.yLabels);
    series.push({
      type: "custom",
      coordinateSystem: "cartesian2d",
      xAxisIndex: ai,
      yAxisIndex: ai,
      silent: true,
      clip: false,
      z: 5,
      encode: { x: [0, 1], y: [2, 3] },
      data: items.map((it) => [it.x1, it.x2, it.lo, it.hi]),
      renderItem: (params: any, api: any) => {
        const it = items[params.dataIndex];
        const color = SCALE_COLORS[it.scale];
        const a = api.coord([api.value(0), api.value(2)]);
        const b = api.coord([api.value(1), api.value(3)]);
        if (it.kind === "ylabel") {
          return {
            type: "text",
            x: a[0] - 6,
            y: a[1],
            rotation: Math.PI / 2,
            style: { text: it.text, fill: "#000", font: `bold 13px ${SANS}`, align: "center", verticalAlign: "bottom" },
          };
        }
        const children: any[] = [];
        let rightX = b[0];
        let midY = (a[1] + b[1]) / 2;
        if (it.kind === "seg") {
          const y = a[1];
          children.push({ type: "line", shape: { x1: a[0], y1: y, x2: b[0], y2: y }, style: { stroke: color, lineWidth: 2.4 } });
          children.push({ type: "line", shape: { x1: a[0], y1: y - 3.5, x2: a[0], y2: y + 3.5 }, style: { stroke: color, lineWidth: 1.6 } });
          children.push({ type: "line", shape: { x1: b[0], y1: y - 3.5, x2: b[0], y2: y + 3.5 }, style: { stroke: color, lineWidth: 1.6 } });
          rightX = b[0] + 2;
          midY += ROW_LABEL_SHIFT[it.scale] || 0;
        } else if (it.kind === "block") {
          children.push({ type: "rect", shape: { x: a[0], y: b[1], width: b[0] - a[0], height: a[1] - b[1] }, style: { fill: color } });
          rightX = b[0] + 2;
          midY += BLOCK_LABEL_SHIFT;
        } else {
          children.push({ type: "rect", shape: { x: a[0] - 2.2, y: b[1], width: 4.4, height: a[1] - b[1] }, style: { fill: color } });
          rightX = a[0] + 3;
          midY += MARK_LABEL_SHIFT[it.scale] || 0;
        }
        if (it.label) {
          children.push({
            type: "text",
            x: rightX + 2,
            y: midY,
            style: { text: it.scale, fill: color, font: `bold 9px ${SANS}`, verticalAlign: "middle", align: "left" },
          });
        }
        return { type: "group", children };
      },
    });

    graphic.push({
      type: "text",
      x: 82,
      y: TOPS[i] + HEIGHTS[i] - 4,
      style: { text: p.name, fill: "#000", font: `21px ${SERIF}`, verticalAlign: "bottom", align: "left" },
      z: 10,
    });
  });

  return { animation: false, backgroundColor: "#fff", grid, xAxis, yAxis, series, graphic };
}

export default function App() {
  const ref = useRef<HTMLDivElement>(null);
  useEffect(() => {
    document.body.style.margin = "0";
    if (!ref.current) return;
    const chart = echarts.init(ref.current, undefined, { renderer: "svg" });
    chart.setOption(buildOption() as any);
    return () => chart.dispose();
  }, []);
  return <div ref={ref} style={{ width: 830, height: 932 }} />;
}
